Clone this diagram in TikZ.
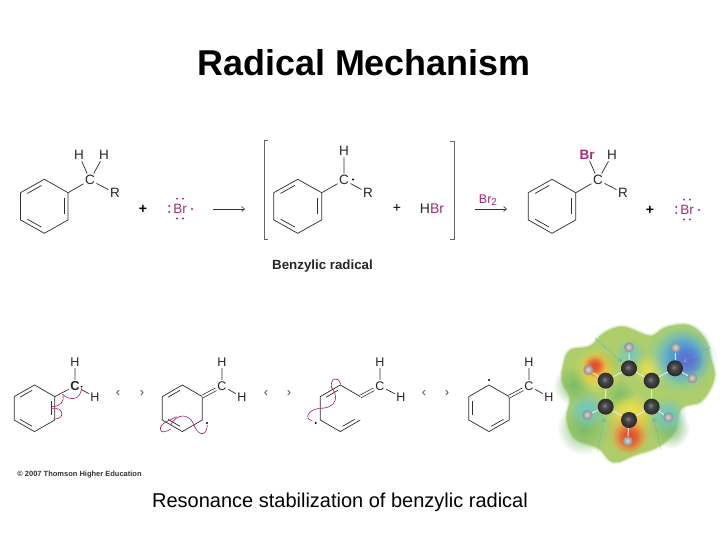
\documentclass[tikz,border=0pt]{standalone}
\usepackage{fontspec}
\setmainfont{Liberation Sans}
\usetikzlibrary{calc,arrows.meta,fadings}
\definecolor{mag}{HTML}{A62B78}
\definecolor{bondc}{HTML}{303030}
\definecolor{mapbase}{HTML}{AECE6C}
\definecolor{mapedge}{HTML}{CFE3AE}
\definecolor{mapyel}{HTML}{F0E048}
\definecolor{mapora}{HTML}{F0A040}
\definecolor{mapred}{HTML}{E44C30}
\definecolor{mapcya}{HTML}{70C8C0}
\definecolor{mapblu}{HTML}{4C90E0}
\definecolor{mapvio}{HTML}{6468C8}
\definecolor{mapgrn}{HTML}{7CBC68}
\tikzfading[name=softc,inner color=transparent!0,outer color=transparent!100]
\pgfdeclareradialshading{atomcs}{\pgfpoint{-4bp}{4bp}}{color(0bp)=(black!50); color(10bp)=(black!72); color(22bp)=(black!82); color(50bp)=(black!90)}
\pgfdeclareradialshading{atomhs}{\pgfpoint{-3bp}{3bp}}{color(0bp)=(black!15); color(12bp)=(black!30); color(25bp)=(black!45); color(50bp)=(black!55)}
\tikzset{
 bond/.style={draw=bondc,line width=.72pt},
 lbl/.style={inner sep=1.5pt,text=black!85,font=\fontsize{13.5}{14}\selectfont},
 lbs/.style={inner sep=1.5pt,text=black!85,font=\fontsize{12.5}{13}\selectfont},
 brl/.style={inner sep=1pt,text=mag,font=\fontsize{13.5}{14}\selectfont},
 rarrow/.style={draw=bondc,line width=.6pt,-{Straight Barb[length=3pt,width=5pt]}},
 curly/.style={draw=mag,line width=.65pt},
 bracket/.style={draw=black!60,line width=.9pt},
 reso/.style={inner sep=0pt,text=black!70,font=\fontsize{13}{13}\selectfont},
 big/.style={inner sep=0pt,text=black},
 plus/.style={inner sep=0pt,text=black,font=\fontsize{14}{14}\selectfont\bfseries},
 atomC/.style={shading=atomcs,draw=none,shape=circle,inner sep=0pt,minimum size=16pt},
 atomH/.style={shading=atomhs,draw=none,shape=circle,inner sep=0pt,minimum size=10pt},
 bball/.style={draw=black!10,line width=1pt},
 arrowc/.style={draw=cyan!70!teal!80!white,line width=.7pt,densely dotted,-{Straight Barb[length=3pt,width=4pt]}}
}
\newcommand{\ringcoords}[6]{%
 \coordinate (#1o) at (#2,#3);
 \coordinate (#11) at (#2,#3-#6);
 \coordinate (#12) at (#2+#4,#3-#5);
 \coordinate (#13) at (#2+#4,#3+#5);
 \coordinate (#14) at (#2,#3+#6);
 \coordinate (#15) at (#2-#4,#3+#5);
 \coordinate (#16) at (#2-#4,#3-#5);}
\newcommand{\fullring}[1]{\draw[bond,line join=round] (#11)--(#12)--(#13)--(#14)--(#15)--(#16)--cycle;}
\newcommand{\inner}[3]{\draw[bond] ($(#2)!.14!(#3)!.17!(#1o)$) -- ($(#3)!.14!(#2)!.17!(#1o)$);}
\newcommand{\brrad}[3]{%
 \node[brl] (#1) at (#2,#3) {Br};
 \fill[mag] ($(#1)+(-3,-10.3)$) circle (1.05) ($(#1)+(3,-10.3)$) circle (1.05)
  ($(#1)+(-3,9.5)$) circle (1.05) ($(#1)+(3,9.5)$) circle (1.05)
  ($(#1)+(-10.8,-3)$) circle (1.05) ($(#1)+(-10.8,3)$) circle (1.05)
  ($(#1)+(12,0)$) circle (1.05);}
\begin{document}
\begin{tikzpicture}[x=1pt,y=-1pt]
\useasboundingbox (0,0) rectangle (720,540);
\fill[white] (0,0) rectangle (720,540);
\node[big,font=\fontsize{35.9}{36}\selectfont\bfseries] (title) at (364,63) {Radical Mechanism};
\node[big,font=\fontsize{20}{20}\selectfont] (caption) at (340,502) {Resonance stabilization of benzylic radical};
\node[inner sep=0pt,text=black!80,font=\fontsize{7.5}{8}\selectfont\bfseries] (copy) at (79.5,475) {© 2007 Thomson Higher Education};
\node[inner sep=0pt,text=black!85,font=\fontsize{13.3}{14}\selectfont\bfseries] (benz) at (322.5,266) {Benzylic radical};
% top left molecule
\ringcoords{a}{44.3}{206.3}{23.8}{13.6}{27}
\fullring{a}\inner{a}{a6}{a1}\inner{a}{a2}{a3}\inner{a}{a4}{a5}
\node[lbl] (aC) at (90,180) {C};
\node[lbl] (aH1) at (79,155) {H};
\node[lbl] (aH2) at (104,155) {H};
\node[lbl] (aR) at (115,193) {R};
\draw[bond] (a2)--(aC) (aC)--(aH1) (aC)--(aH2) (aC)--(aR);
\node[plus] (p1) at (143,209) {+};
\brrad{br1}{180}{209}
\coordinate (ar1s) at (213,209); \coordinate (ar1e) at (245,209);
\draw[rarrow] (ar1s)--(ar1e);
% brackets
\coordinate (bl1) at (268,140); \coordinate (bl2) at (264,140); \coordinate (bl3) at (264,239); \coordinate (bl4) at (268,239);
\draw[bracket] (bl1)--(bl2)--(bl3)--(bl4);
\coordinate (br1a) at (450,141); \coordinate (br2a) at (454,141); \coordinate (br3a) at (454,239); \coordinate (br4a) at (450,239);
\draw[bracket] (br1a)--(br2a)--(br3a)--(br4a);
% radical
\ringcoords{b}{297.7}{206.3}{24}{13.6}{27}
\fullring{b}\inner{b}{b6}{b1}\inner{b}{b2}{b3}\inner{b}{b4}{b5}
\node[lbl] (bC) at (344,180) {C};
\node[lbl] (bH) at (344,151) {H};
\node[lbl] (bR) at (368,193) {R};
\draw[bond] (b2)--(bC) (bC)--(bH) (bC)--(bR);
\fill[black] (353,179.5) circle (1.1);
\node[plus,font=\fontsize{14}{14}\selectfont] (p2) at (397,208) {+};
\node[lbl,font=\fontsize{14}{14}\selectfont] (hbr) at (432,209) {H\textcolor{mag}{Br}};
\node[brl,font=\fontsize{12.5}{13}\selectfont] (br2) at (488,200) {Br\raisebox{-2pt}{\fontsize{10}{10}\selectfont 2}};
\coordinate (ar2s) at (475,209); \coordinate (ar2e) at (507,209);
\draw[rarrow] (ar2s)--(ar2e);
% product
\ringcoords{c}{552}{206.3}{23.8}{13.6}{27}
\fullring{c}\inner{c}{c6}{c1}\inner{c}{c2}{c3}\inner{c}{c4}{c5}
\node[lbl] (cC) at (598,180) {C};
\node[brl,font=\fontsize{13.5}{14}\selectfont\bfseries] (cBr) at (587,155) {Br};
\node[lbl] (cH) at (612,155) {H};
\node[lbl] (cR) at (623,193) {R};
\draw[bond] (c2)--(cC) (cC)--(cBr) (cC)--(cH) (cC)--(cR);
\node[plus] (p3) at (650,210) {+};
\brrad{br3}{687}{210}
% bottom row
\ringcoords{d}{34.5}{408.3}{20.3}{11.7}{23.3}
\fullring{d}\inner{d}{d6}{d1}\inner{d}{d2}{d3}\inner{d}{d4}{d5}
\node[lbs,font=\fontsize{13}{13}\selectfont\bfseries] (dC) at (75,386) {C};
\node[lbs] (dH1) at (75,362) {H};
\node[lbs] (dH2) at (95,397) {H};
\draw[bond] (d2)--(dC) (dC)--(dH1) (dC)--(dH2);
\fill[black] (81.5,386.5) circle (1);
\ringcoords{e}{182.3}{408.3}{20}{11.7}{23.3}
\fullring{e}
\inner{e}{e6}{e1}\inner{e}{e4}{e5}
\node[lbs] (eC) at (222,386) {C};
\node[lbs] (eH1) at (222,362) {H};
\node[lbs] (eH2) at (242,397) {H};
\draw[bond,double=white,double distance=2pt] (e2)--(eC);
\draw[bond] (eC)--(eH1) (eC)--(eH2);
\fill[black] (207,423) circle (1.1);
\ringcoords{f}{340.3}{408.3}{20}{11.7}{23.3}
\draw[bond,line join=round] (f2)--(f1)--(f6)--(f5)--(f4)--(f3);
\inner{f}{f6}{f1}\inner{f}{f4}{f3}
\node[lbs] (fC) at (380,386) {C};
\node[lbs] (fH1) at (380,362) {H};
\node[lbs] (fH2) at (401,397) {H};
\draw[bond,double=white,double distance=2pt] (f2)--(fC);
\draw[bond] (fC)--(fH1) (fC)--(fH2);
\fill[black] (315.7,423) circle (1.1);
\ringcoords{g}{489}{408.3}{20.2}{11.7}{23.3}
\fullring{g}\inner{g}{g6}{g5}\inner{g}{g4}{g3}
\node[lbs] (gC) at (529,386) {C};
\node[lbs] (gH1) at (529,362) {H};
\node[lbs] (gH2) at (549,397) {H};
\draw[bond,double=white,double distance=2pt] (g2)--(gC);
\draw[bond] (gC)--(gH1) (gC)--(gH2);
\fill[black] (489,380) circle (1.1);
% resonance arrows
\node[reso] (r1a) at (118,393.5) {‹}; \node[reso] (r1b) at (142,393.5) {›};
\node[reso] (r2a) at (266,393.5) {‹}; \node[reso] (r2b) at (289,393.5) {›};
\node[reso] (r3a) at (424,393.5) {‹}; \node[reso] (r3b) at (447,393.5) {›};
% curly arrows (3x zoom coordinates)
\begin{scope}[shift={(0,345)},x=1/3*1pt,y=-1/3*1pt]
\draw[curly] (245,130) .. controls (240,170) and (205,165) .. (188,148);
\draw[curly] (188,148) .. controls (195,170) and (180,185) .. (155,185);
\draw[curly] (155,190) .. controls (195,185) and (195,225) .. (160,222);
\draw[curly] (622,240) .. controls (620,280) and (590,270) .. (580,235);
\draw[curly] (580,235) .. controls (565,205) and (530,205) .. (512,240);
\draw[curly] (530,215) .. controls (500,230) and (470,240) .. (485,260) .. controls (490,262) and (505,258) .. (512,252);
\end{scope}
\begin{scope}[shift={(280,345)},x=1/3*1pt,y=-1/3*1pt]
\draw[curly] (155,130) .. controls (148,100) and (175,90) .. (182,118);
\draw[curly] (153,125) .. controls (175,150) and (175,190) .. (118,190);
\draw[curly] (118,190) .. controls (85,195) and (70,220) .. (97,228);
\end{scope}
% electrostatic potential map
\begin{scope}[shift={(555,315)},x=1/3*1pt,y=-1/3*1pt]
\def\blobpath{plot[smooth cycle,tension=.65] coordinates {(25,150)(45,105)(105,93)(145,55)(205,35)(285,62)(330,38)(400,30)(450,70)(468,130)(478,190)(440,258)(380,280)(358,350)(310,395)(240,420)(175,442)(130,400)(60,370)(35,310)(45,250)(22,200)}}
\draw[draw=mapedge,fill=mapedge,line width=4pt,opacity=.4] \blobpath;
\draw[draw=mapedge,fill=mapedge,line width=2pt,opacity=.6] \blobpath;
\fill[fill=mapbase] \blobpath;
\foreach \x/\y/\r/\c in {
 55/210/60/mapgrn,
 85/340/80/mapgrn,
 345/340/60/mapgrn,
 150/150/45/mapgrn,
 225/115/46/mapcya,
 95/285/62/mapcya,
 95/285/40/mapcya,
 335/300/60/mapcya,
 335/300/40/mapcya,
 195/240/45/mapgrn,
 225/300/72/mapyel,
 225/300/55/mapyel,
 290/165/55/mapyel,
 290/165/40/mapyel,
 125/165/72/mapyel,
 125/165/52/mapyel,
 222/355/72/mapora,
 222/360/55/mapora,
 122/155/52/mapora,
 222/365/48/mapred,
 222/365/34/mapred,
 118/152/34/mapred,
 118/152/24/mapred,
 375/130/112/mapcya,
 375/130/90/mapcya,
 385/125/85/mapblu,
 385/125/60/mapblu,
 395/135/48/mapvio}
 {\fill[\c,path fading=softc] (\x,\y) circle (\r);}
\node[atomC] (n1) at (222,160) {};
\node[atomC] (n2) at (152,197) {};
\node[atomC] (n3) at (290,197) {};
\node[atomC] (n4) at (360,160) {};
\node[atomC] (n5) at (152,275) {};
\node[atomC] (n6) at (290,275) {};
\node[atomC] (n7) at (222,315) {};
\node[atomH] (h1) at (222,97) {};
\node[atomH] (h2) at (100,165) {};
\node[atomH] (h3) at (362,98) {};
\node[atomH] (h4) at (412,190) {};
\node[atomH] (h5) at (97,300) {};
\node[atomH] (h6) at (340,307) {};
\node[atomH] (h7) at (218,378) {};
\draw[bball] (n1)--(n2) (n1)--(n3) (n3)--(n4) (n2)--(n5) (n3)--(n6) (n5)--(n7) (n6)--(n7)
 (n1)--(h1) (n2)--(h2) (n4)--(h3) (n4)--(h4) (n5)--(h5) (n6)--(h6) (n7)--(h7);
\coordinate (ca1) at (120,70); \coordinate (ca2) at (465,97); \coordinate (ca3) at (128,410); \coordinate (ca4) at (318,405);
\coordinate (ct1) at (200,140); \coordinate (ct2) at (385,140); \coordinate (ct3) at (148,310); \coordinate (ct4) at (295,308);
\draw[arrowc] (ca1)--(ct1); \draw[arrowc] (ca2)--(ct2); \draw[arrowc] (ca3)--(ct3); \draw[arrowc] (ca4)--(ct4);
\end{scope}
\end{tikzpicture}
\end{document}
